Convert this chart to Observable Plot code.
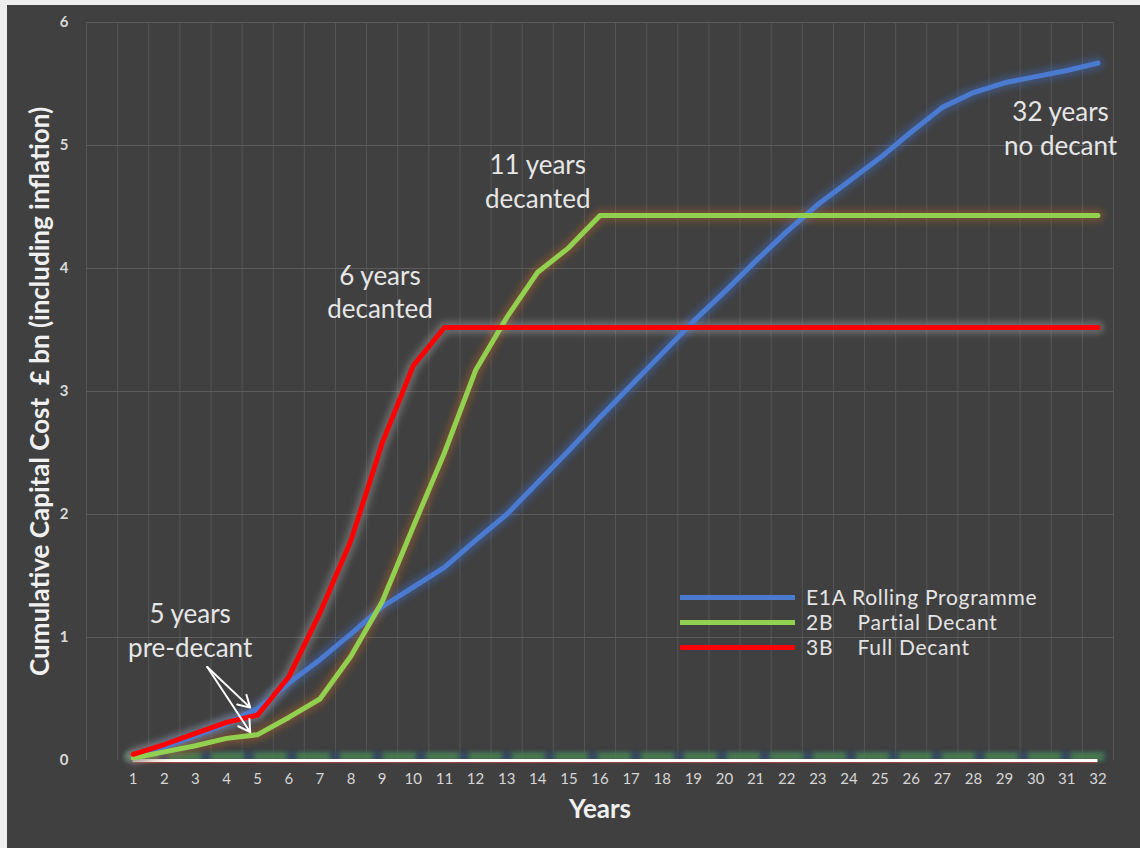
<!DOCTYPE html>
<html>
<head>
<meta charset="utf-8">
<script src="https://cdn.jsdelivr.net/npm/d3@7"></script>
<script src="https://cdn.jsdelivr.net/npm/@observablehq/plot@0.6"></script>
<style>
  html, body { margin: 0; padding: 0; background: #eeeeee; }
  #frame {
    position: absolute; left: 7px; top: 5px; width: 1133px; height: 843px;
    background: #404040; overflow: hidden; font-family: Lato, "Open Sans", sans-serif;
  }
  #legend { position: absolute; left: 0; top: 0; }
  .row { position: absolute; height: 24px; display: flex; align-items: center; white-space: pre; }
  .swatch { width: 115px; height: 5px; margin-right: 11px; }
  .lab { color: #e4e4e4; font-size: 21px; line-height: 22px; letter-spacing: 0.7px; }
</style>
</head>
<body>
<div id="frame"><div id="legend"></div></div>
<script>
// Years of the programme (category axis)
const years = [1,2,3,4,5,6,7,8,9,10,11,12,13,14,15,16,17,18,19,20,21,22,23,24,25,26,27,28,29,30,31,32];

// Cumulative capital cost, £ bn (including inflation)
const rolling = [0.02,0.11,0.20,0.30,0.42,0.63,0.82,1.03,1.25,1.41,1.57,1.79,2.00,2.26,2.52,2.79,
                 3.05,3.31,3.57,3.81,4.06,4.30,4.52,4.71,4.90,5.11,5.31,5.43,5.51,5.56,5.61,5.67];
const partial = [0.02,0.07,0.12,0.18,0.21,0.35,0.50,0.85,1.29,1.90,2.50,3.17,3.60,3.97,4.17,4.43,
                 4.43,4.43,4.43,4.43,4.43,4.43,4.43,4.43,4.43,4.43,4.43,4.43,4.43,4.43,4.43,4.43];
const full    = [0.05,0.13,0.22,0.31,0.37,0.68,1.20,1.79,2.58,3.21,3.52,3.52,3.52,3.52,3.52,3.52,
                 3.52,3.52,3.52,3.52,3.52,3.52,3.52,3.52,3.52,3.52,3.52,3.52,3.52,3.52,3.52,3.52];

const seriesNames  = ["E1A Rolling Programme", "2B    Partial Decant", "3B    Full Decant"];
const seriesColors = ["#4a7bd0", "#92d050", "#ff0000"];
const glowColors   = ["#3f6fc8", "#b8642a", "#a8a8a8"];
const seriesValues = [rolling, partial, full];

const yTicks = [0, 1, 2, 3, 4, 5, 6];

// Callout texts
const notes = [
  {year: 2.83, value: 1.07, text: "5 years\npre-decant"},
  {year: 8.93, value: 3.82, text: "6 years\ndecanted"},
  {year: 14.0, value: 4.72, text: "11 years\ndecanted"},
  {year: 30.8, value: 5.15, text: "32 years\nno decant"}
];
// Arrows pointing at the year-5 values
const pointers = [
  {x1: 3.38, y1: 0.76, x2: 4.76, y2: 0.43},
  {x1: 3.38, y1: 0.76, x2: 4.76, y2: 0.23}
];

const rows = [];
seriesValues.forEach((vals, s) => vals.forEach((v, i) => rows.push({series: s, year: years[i], value: v})));

const first = years[0], last = years[years.length - 1];
// category boundaries, plus the left edge of the plot area
const gridX = [first - 1.5].concat(years.map(d => d - 0.5), [last + 0.5]);

const lineMarks = [];
// soft halo under each series
seriesValues.forEach((vals, s) => {
  lineMarks.push(Plot.line(rows.filter(r => r.series === s), {
    x: "year", y: "value", stroke: glowColors[s], strokeWidth: 12.5, strokeOpacity: 0.4,
    strokeLinejoin: "round", strokeLinecap: "round"
  }));
});
seriesValues.forEach((vals, s) => {
  lineMarks.push(Plot.line(rows.filter(r => r.series === s), {
    x: "year", y: "value", stroke: seriesColors[s], strokeWidth: 5,
    strokeLinejoin: "round", strokeLinecap: "round"
  }));
});

const W = 1133, H = 843;
const chart = Plot.plot({
  width: W,
  height: H,
  marginLeft: 79,
  marginRight: 27,
  marginTop: 17,
  marginBottom: 88,
  style: {background: "transparent", fontFamily: "Lato, 'Open Sans', sans-serif", fontSize: "14px", overflow: "visible"},
  x: {domain: [gridX[0], gridX[gridX.length - 1]], axis: null},
  y: {domain: [0, 6], axis: null},
  marks: [
    Plot.ruleX(gridX, {stroke: "#555555", strokeWidth: 1}),
    Plot.ruleY(yTicks.filter(d => d > 0), {stroke: "#5c5c5c", strokeWidth: 1}),
    // blurred band along the base
    Plot.ruleY([0], {x1: first - 0.25, x2: last + 0.25, stroke: "#2e4f78", strokeWidth: 8.5, strokeOpacity: 0.6, dy: -4}),
    Plot.ruleY([0], {x1: first - 0.25, x2: last + 0.25, stroke: "#4f8a45", strokeWidth: 8.5, strokeOpacity: 0.75, strokeDasharray: "33,10", dy: -4}),
    Plot.ruleY([0], {x1: first, x2: last, stroke: "#d04040", strokeWidth: 1.5, strokeOpacity: 0.6, dy: 2}),
    Plot.ruleY([0], {x1: first, x2: last, stroke: "#ffffff", strokeWidth: 3}),
    ...lineMarks,
    Plot.arrow(pointers, {x1: "x1", y1: "y1", x2: "x2", y2: "y2", stroke: "#ffffff", strokeWidth: 2, headLength: 10, bend: 0}),
    Plot.text(notes, {x: "year", y: "value", text: "text", fill: "#e6e6e6", fontSize: 26, lineHeight: 1.3}),
    // tick labels
    Plot.text(years, {x: d => d, frameAnchor: "bottom", dy: 23, fontSize: 15, fill: "#d6d6d6", text: d => String(d)}),
    Plot.text(yTicks, {y: d => d, frameAnchor: "left", textAnchor: "end", dx: -18, fontSize: 15, fontWeight: "bold", fill: "#d9d9d9", text: d => String(d)}),
    // axis titles
    Plot.text(["Years"], {frameAnchor: "bottom", dy: 57, fontSize: 26, fontWeight: "bold", fill: "#f0f0f0"}),
    Plot.text(["Cumulative Capital Cost  £ bn (including inflation)"], {
      frameAnchor: "left", textAnchor: "middle", rotate: -90, dx: -46,
      fontSize: 26, fontWeight: "bold", fill: "#f0f0f0"
    })
  ]
});

// blur filters for the halo and base band
const svg = d3.select(chart);
const defs = svg.insert("defs", ":first-child");
defs.append("filter").attr("id", "halo").attr("filterUnits", "userSpaceOnUse")
  .attr("x", 0).attr("y", 0).attr("width", W).attr("height", H)
  .append("feGaussianBlur").attr("stdDeviation", 3);
defs.append("filter").attr("id", "band").attr("filterUnits", "userSpaceOnUse")
  .attr("x", 0).attr("y", 0).attr("width", W).attr("height", H)
  .append("feGaussianBlur").attr("stdDeviation", 2);
svg.selectAll('g[stroke-width="12.5"]').attr("filter", "url(#halo)");
svg.selectAll('g[stroke-width="8.5"]').attr("filter", "url(#band)");

const frame = document.getElementById("frame");
frame.insertBefore(chart, frame.firstChild);
chart.style.position = "absolute";
chart.style.left = "0px";
chart.style.top = "0px";

// legend
const legend = document.getElementById("legend");
seriesNames.forEach((name, s) => {
  const row = document.createElement("div");
  row.className = "row";
  row.style.left = "673px";
  row.style.top = (580 + s * 25) + "px";
  const sw = document.createElement("div");
  sw.className = "swatch";
  sw.style.background = seriesColors[s];
  const lab = document.createElement("span");
  lab.className = "lab";
  lab.textContent = name;
  row.appendChild(sw);
  row.appendChild(lab);
  legend.appendChild(row);
});
</script>
</body>
</html>
